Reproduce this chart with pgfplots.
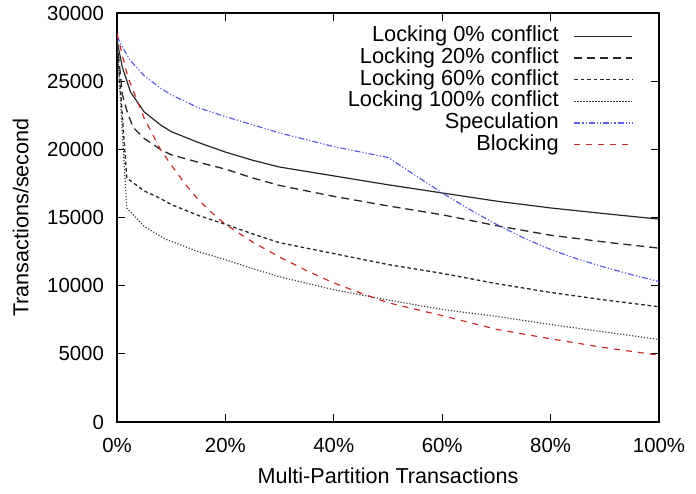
\documentclass[border=0pt]{standalone}
\usepackage{fontspec}
\setmainfont{Liberation Sans}
\usepackage{pgfplots}
\pgfplotsset{compat=1.18}
\usepackage{pgfplotstable}
\usetikzlibrary{calc}

% Throughput (transactions/second) against the share of multi-partition transactions (%)
\pgfplotstableread{
x y
0 28000
1 26000
2.5 24200
5 22750
8 21800
10 21300
15 20500
20 19800
25 19200
30 18700
40 18050
50 17400
60 16800
70 16200
80 15700
90 15280
100 14880
}\lockzero
\pgfplotstableread{
x y
0 28000
1 24000
2 22600
3 21600
5 20800
8 20000
10 19600
15 19050
20 18550
25 17900
30 17350
40 16550
50 15850
60 15200
70 14400
80 13700
90 13200
100 12750
}\locktwenty
\pgfplotstableread{
x y
0 28000
1.8 17900
5 16950
8 16400
10 15950
15 15150
20 14500
25 13800
30 13150
40 12350
50 11550
60 10900
70 10150
80 9500
90 8950
100 8450
}\locksixty
\pgfplotstableread{
x y
0 28000
1.8 15700
5 14350
9 13400
10 13250
15 12500
20 11900
25 11250
30 10650
40 9700
50 8950
60 8250
70 7750
80 7150
90 6600
100 6050
}\lockhundred
\pgfplotstableread{
x y
0 28300
1 27500
2.5 26500
5 25400
8 24500
10 24000
15 23050
20 22400
25 21800
30 21200
40 20200
50 19400
55 18100
60 16800
65 15600
70 14500
75 13500
80 12650
85 11950
90 11350
95 10800
100 10300
}\speculation
\pgfplotstableread{
x y
0 28500
2 25300
5 22300
8 20000
10 18850
12.5 17500
15 16300
17.5 15350
20 14500
25 13200
30 12100
35 11100
40 10200
45 9450
50 8750
60 7800
70 6800
80 6100
90 5450
100 4900
}\blocking

\definecolor{specblue}{RGB}{95,95,225}
\definecolor{blockred}{RGB}{200,45,45}

\begin{document}
\begin{tikzpicture}[font=\fontsize{10.8}{13}\selectfont]
\begin{axis}[
  scale only axis,
  width=271pt, height=204.5pt,
  xmin=0, xmax=100, ymin=0, ymax=30000,
  xtick={0,20,40,60,80,100},
  ytick={0,5000,10000,15000,20000,25000,30000},
  xticklabel={\pgfmathprintnumber{\tick}\%},
  scaled y ticks=false,
  /pgf/number format/.cd, 1000 sep={}, assume math mode=true,
  /pgfplots/.cd,
  tick label style={font=\fontsize{10.2}{12}\selectfont},
  tick align=inside,
  major tick length=4pt,
  tick style={black, line width=0.6pt},
  axis line style={line width=0.75pt},
  xtick pos=both, ytick pos=both,
  yticklabel style={xshift=-3pt},
  xticklabel style={yshift=-4.5pt},
  xlabel={Multi-Partition Transactions},
  ylabel={Transactions/second},
  xlabel style={yshift=-1pt},
  ylabel style={yshift=2.5pt},
  legend plot pos=right,
  legend cell align=right,
  legend image code/.code={\draw[#1] (0pt,0pt) -- (29pt,0pt);},
  legend style={draw=none, fill=none, at={(1,1)}, anchor=north east,
    xshift=-13pt, yshift=-6.85pt, inner sep=0pt, outer sep=0pt,
    row sep=1.35pt, column sep=7.5pt,
    nodes={inner sep=0pt, text height=7.5pt, text depth=2pt},
    font=\fontsize{10.9}{13}\selectfont},
]
\addplot[black!85, line width=0.6pt] table {\lockzero};
\addlegendentry{Locking 0\% conflict}
\addplot[black!85, line width=0.65pt, dash pattern=on 4pt off 2.5pt] table {\locktwenty};
\addlegendentry{Locking 20\% conflict}
\addplot[black!85, line width=0.65pt, dash pattern=on 1.8pt off 1.4pt] table {\locksixty};
\addlegendentry{Locking 60\% conflict}
\addplot[black!75, line width=0.6pt, dash pattern=on 0.6pt off 0.9pt] table {\lockhundred};
\addlegendentry{Locking 100\% conflict}
\addplot[specblue, line width=0.6pt, dash pattern=on 3pt off 1pt on 0.6pt off 1pt on 0.6pt off 1pt] table {\speculation};
\addlegendentry{Speculation}
\addplot[blockred, line width=0.6pt, dash pattern=on 3pt off 3pt] table {\blocking};
\addlegendentry{Blocking}
\end{axis}
\pgfresetboundingbox
\path[use as bounding box] ($(current axis.south west)+(-58.5pt,-36pt)$) rectangle ($(current axis.north east)+(18.5pt,6.5pt)$);
\end{tikzpicture}
\end{document}
